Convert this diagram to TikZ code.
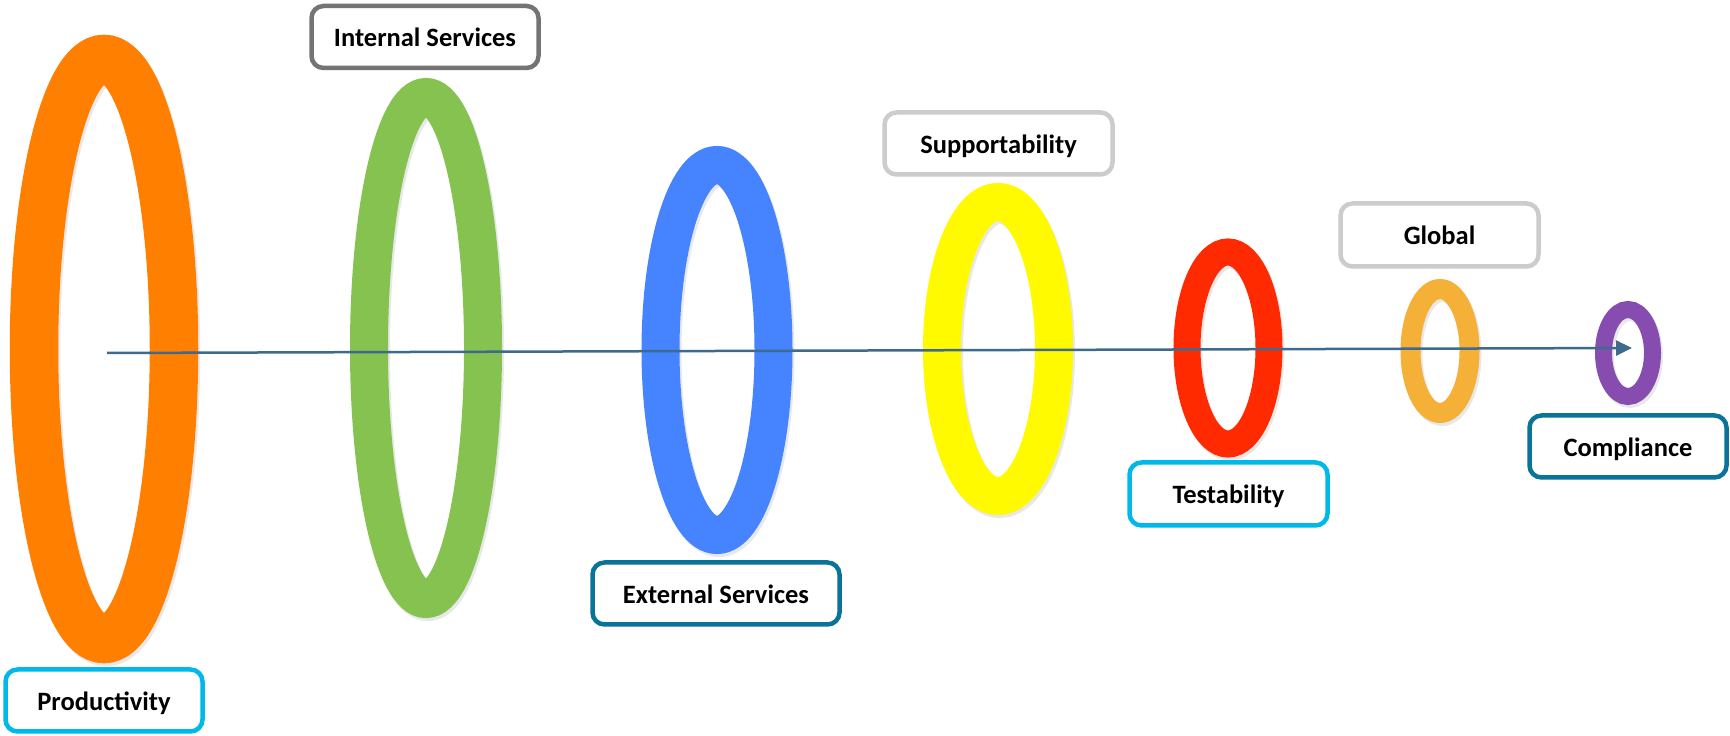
\documentclass[tikz,border=0pt]{standalone}
\usepackage{fontspec}
\setmainfont{Carlito}
\usetikzlibrary{arrows.meta,shapes.geometric}
\definecolor{ringOrange}{HTML}{FF8000}
\definecolor{ringGreen}{HTML}{85C250}
\definecolor{ringBlue}{HTML}{4583FF}
\definecolor{ringYellow}{HTML}{FFFA00}
\definecolor{ringRed}{HTML}{FF2A00}
\definecolor{ringGold}{HTML}{F5B038}
\definecolor{ringPurple}{HTML}{864CB0}
\definecolor{bCyan}{HTML}{00B9E8}
\definecolor{bGray}{HTML}{747474}
\definecolor{bLight}{HTML}{CCCCCC}
\definecolor{bTeal}{HTML}{0A739A}
\definecolor{arrowBlue}{HTML}{3E6A8E}
\tikzset{
  ring/.style={ellipse, draw=#1, inner sep=0pt},
  ringshadow/.style={ellipse, draw=black!25, inner sep=0pt, opacity=0.35},
  label box/.style={draw=#1, line width=4.5pt, rounded corners=12pt, fill=white,
    inner sep=0pt, minimum width=197pt, minimum height=62pt,
    text height=22pt, text depth=2pt,
    font=\bfseries\fontsize{26.5pt}{30pt}\selectfont, text=black},
  axis arrow/.style={draw=arrowBlue, line width=2.5pt,
    -{Triangle[length=16pt,width=15pt]}}
}
\begin{document}
\begin{tikzpicture}[x=1pt,y=1pt]
\useasboundingbox (0,0) rectangle (1730,736);
\fill[white] (0,0) rectangle (1730,736);
% soft shadows
\node[ringshadow, line width=48.5pt, minimum width=140pt, minimum height=580pt] at (106,384) {};
\node[ringshadow, line width=38pt, minimum width=114pt, minimum height=502pt] at (428,385) {};
\node[ringshadow, line width=38pt, minimum width=113pt, minimum height=370pt] at (719,383) {};
\node[ringshadow, line width=38pt, minimum width=112pt, minimum height=294pt] at (1000,384) {};
\node[ringshadow, line width=27pt, minimum width=82pt, minimum height=192pt] at (1230,385) {};
\node[ringshadow, line width=20pt, minimum width=59pt, minimum height=124pt] at (1442,382) {};
\node[ringshadow, line width=17pt, minimum width=49pt, minimum height=87pt] at (1630,380) {};
% rings
\node[ring=ringOrange, line width=48.5pt, minimum width=140pt, minimum height=580pt] (r1) at (104,387) {};
\node[ring=ringGreen, line width=38pt, minimum width=114pt, minimum height=502pt] (r2) at (426,388) {};
\node[ring=ringBlue, line width=38pt, minimum width=113pt, minimum height=370pt] (r3) at (717,386) {};
\node[ring=ringYellow, line width=38pt, minimum width=112pt, minimum height=294pt] (r4) at (998,387) {};
\node[ring=ringRed, line width=27pt, minimum width=82pt, minimum height=192pt] (r5) at (1228,388) {};
\node[ring=ringGold, line width=20pt, minimum width=59pt, minimum height=124pt] (r6) at (1440,385) {};
\node[ring=ringPurple, line width=17pt, minimum width=49pt, minimum height=87pt] (r7) at (1628,383) {};
% axis arrow
\coordinate (astart) at (107,383);
\coordinate (aend) at (1632,388);
\draw[axis arrow] (astart) -- (aend);
% labels
\node[label box=bCyan] (productivity) at (104,35.5) {Productivity};
\node[label box=bGray, minimum width=227pt] (internal) at (425,699) {Internal Services};
\node[label box=bTeal, minimum width=247pt] (external) at (716,142.5) {External Services};
\node[label box=bLight, minimum width=228pt] (support) at (998.5,592.5) {Supportability};
\node[label box=bCyan, minimum width=198pt, minimum height=63pt] (testability) at (1228.5,242) {Testability};
\node[label box=bLight, minimum width=198pt, minimum height=63pt] (global) at (1439.5,501) {Global};
\node[label box=bTeal] (compliance) at (1628,289.5) {Compliance};
\end{tikzpicture}
\end{document}
